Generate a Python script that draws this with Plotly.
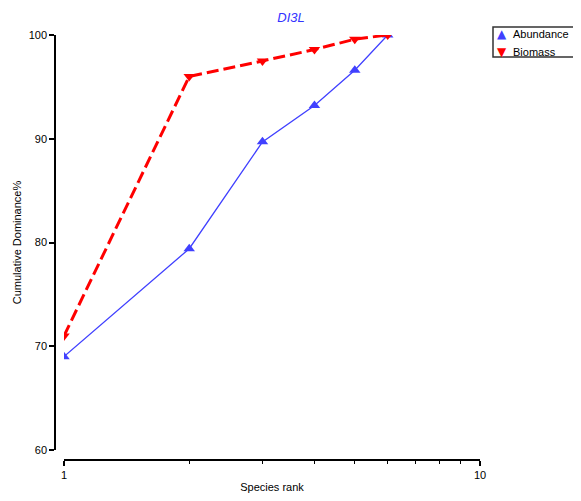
import plotly.graph_objects as go

ranks = [1, 2, 3, 4, 5, 6]
abundance = [69.0, 79.4, 89.7, 93.2, 96.6, 100.0]
biomass = [71.0, 96.0, 97.5, 98.6, 99.6, 100.0]
x_ticks = [1, 10]
y_ticks = [60, 70, 80, 90, 100]
series_names = ["Abundance", "Biomass"]

BLUE = "#4040ff"
RED = "#ff0000"

fig = go.Figure()
fig.add_trace(go.Scatter(
    x=ranks, y=abundance, name=series_names[0], mode="lines+markers", showlegend=False,
    line=dict(color=BLUE, width=1.3),
    marker=dict(symbol="triangle-up", size=10, color=BLUE),
))
fig.add_trace(go.Scatter(
    x=ranks, y=biomass, name=series_names[1], mode="lines+markers", showlegend=False,
    line=dict(color=RED, width=3, dash="12px,5px"),
    marker=dict(symbol="triangle-down", size=10, color=RED),
))

# page has an 8px body margin; figure coordinates are reference pixels minus 8
W, H = 573, 493
l, r, t, b = 47, 101, 27, 41
pw, ph = W - l - r, H - t - b


def px(x):
    return (x - l) / pw


def py(y):
    return 1 - (y - t) / ph


# custom compact legend (box, symbols and labels)
shapes = [dict(type="rect", xref="paper", yref="paper",
               x0=px(485), x1=px(569), y0=py(19), y1=py(49),
               line=dict(color="#333333", width=1.5), fillcolor="white")]
annotations = []
for name, sym, col, yy in [(series_names[0], "▲", BLUE, 26.5), (series_names[1], "▼", RED, 43.5)]:
    annotations.append(dict(xref="paper", yref="paper", x=px(494), y=py(yy), text=sym,
                            showarrow=False, xanchor="center", yanchor="middle",
                            font=dict(size=12, color=col, family="DejaVu Sans")))
    annotations.append(dict(xref="paper", yref="paper", x=px(503), y=py(yy), text=name,
                            showarrow=False, xanchor="left", yanchor="middle",
                            font=dict(size=11, color="black")))

fig.update_layout(
    width=W, height=H,
    margin=dict(l=l, r=r, t=t, b=b, autoexpand=False),
    paper_bgcolor="white", plot_bgcolor="white",
    font=dict(family="Liberation Sans, Arial", size=11, color="black"),
    title=dict(text="<i>DI3L</i>", x=283 / W, xanchor="center", y=1 - 9 / H, yanchor="middle",
               font=dict(size=13, color="#3333ff")),
    showlegend=False,
    shapes=shapes,
    annotations=annotations,
    xaxis=dict(
        type="log", range=[0, 1], domain=[(56 - l) / pw, 1],
        anchor="free", position=0,
        showgrid=False, zeroline=False, showline=True, linecolor="black", linewidth=1.5,
        ticks="outside", ticklen=5, tickwidth=1.5, tickcolor="black",
        tickvals=x_ticks, ticktext=[str(v) for v in x_ticks],
        minor=dict(ticks="outside", ticklen=3, tickwidth=1.2, tickcolor="black", dtick="D1", showgrid=False),
        title=dict(text="Species rank", standoff=2, font=dict(size=11)),
    ),
    yaxis=dict(
        range=[60, 100], domain=[(452 - 442) / ph, 1],
        anchor="free", position=0,
        showgrid=False, zeroline=False, showline=True, linecolor="black", linewidth=1.5,
        ticks="outside", ticklen=5, tickwidth=1.5, tickcolor="black",
        tickvals=y_ticks,
        title=dict(text="Cumulative Dominance%", standoff=4, font=dict(size=11)),
    ),
)

fig.write_html("out.html")
